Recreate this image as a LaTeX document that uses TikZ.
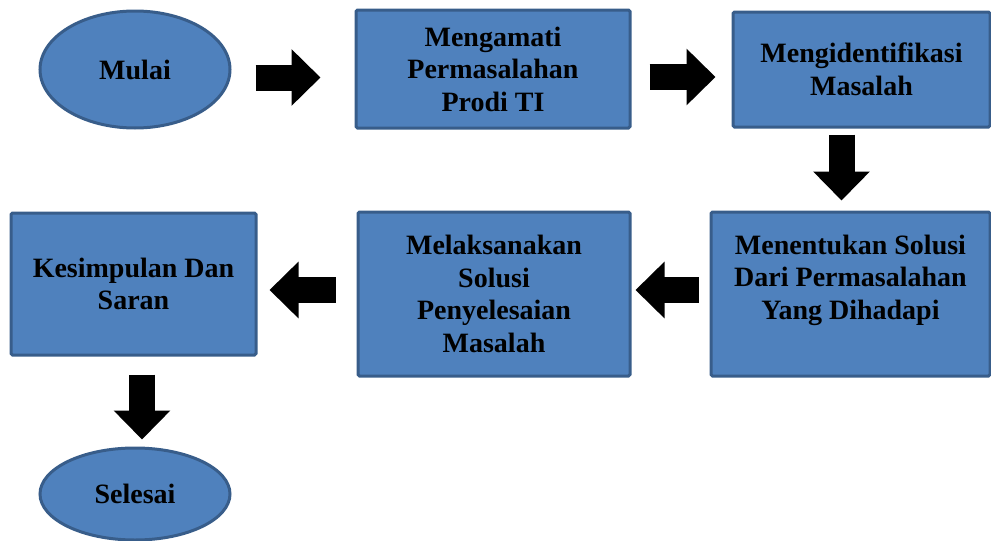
\documentclass[tikz,border=0pt]{standalone}
\usepackage{fontspec}
\setmainfont{Liberation Serif}
\usepackage{xcolor}
\usetikzlibrary{arrows.meta,positioning,calc,shapes.geometric}
\definecolor{boxblue}{HTML}{4F81BD}
\definecolor{boxedge}{HTML}{385D8A}
\tikzset{
  nodebox/.style={draw=boxedge, line width=3pt, fill=boxblue, align=center, inner sep=2pt,
    font=\fontsize{28}{32.5}\selectfont\bfseries},
  stepbox/.style={nodebox, rounded corners=1.5pt},
  endnode/.style={nodebox, ellipse, minimum width=190pt},
  blockarc/.style={-{Triangle[length=29pt,width=55pt]}, line width=26pt, draw=black}
}

\begin{document}
\begin{tikzpicture}[x=1pt, y=-1pt]
  \useasboundingbox (0,0) rectangle (991,541);
  \node[endnode, minimum height=117pt] (mulai) at (135,69.5) {Mulai};
  \node[stepbox, minimum width=274pt, minimum height=118pt] (amati) at (493,69)
    {Mengamati\\Permasalahan\\Prodi TI};
  \node[stepbox, minimum width=257pt, minimum height=115pt] (identifikasi) at (861.5,69.5)
    {Mengidentifikasi\\Masalah};
  \node[stepbox, minimum width=279pt, minimum height=164pt, text depth=34pt] (solusi) at (850.5,294)
    {Menentukan Solusi\\Dari Permasalahan\\Yang Dihadapi};
  \node[stepbox, minimum width=272pt, minimum height=164pt] (laksana) at (494,294)
    {Melaksanakan\\Solusi\\Penyelesaian\\Masalah};
  \node[stepbox, minimum width=245pt, minimum height=142pt] (simpul) at (133.5,284)
    {Kesimpulan Dan\\Saran};
  \node[endnode, minimum height=92pt] (selesai) at (135,494) {Selesai};

  \draw[blockarc, shorten <=24pt, shorten >=34pt] ([yshift=-8pt]mulai.east) -- ([yshift=-8pt]mulai.east -| amati.west);
  \draw[blockarc, shorten <=18pt, shorten >=16pt] ([yshift=-8pt]amati.east) -- ([yshift=-8pt]amati.east -| identifikasi.west);
  \draw[blockarc, shorten <=6pt, shorten >=10pt] ([xshift=-20pt]identifikasi.south) -- ([xshift=-20pt]identifikasi.south |- solusi.north);
  \draw[blockarc, shorten <=11pt, shorten >=4pt] ([yshift=4pt]solusi.west) -- ([yshift=4pt]solusi.west -| laksana.east);
  \draw[blockarc, shorten <=21pt, shorten >=12pt] ([yshift=4pt]laksana.west) -- ([yshift=4pt]laksana.west -| simpul.east);
  \draw[blockarc, shorten <=18pt, shorten >=7pt] ([xshift=8.5pt]simpul.south) -- ([xshift=8.5pt]simpul.south |- selesai.north);
\end{tikzpicture}
\end{document}
